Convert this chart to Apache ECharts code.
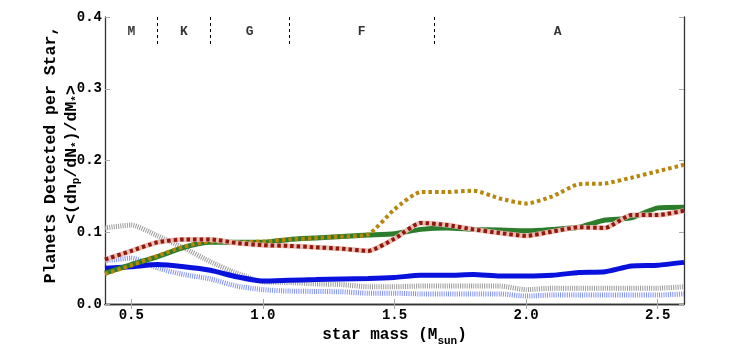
<!DOCTYPE html>
<html>
<head>
<meta charset="utf-8">
<script src="https://cdn.jsdelivr.net/npm/echarts@6/dist/echarts.min.js"></script>
<style>
  html, body { margin: 0; padding: 0; background: #fff; }
  #main { width: 747px; height: 360px; }
</style>
</head>
<body>
<div id="main"></div>
<script>
// star mass (M_sun)
var masses = [0.4, 0.5, 0.6, 0.7, 0.8, 0.9, 1.0, 1.1, 1.2, 1.3, 1.4, 1.5,
              1.6, 1.7, 1.8, 1.9, 2.0, 2.1, 2.2, 2.3, 2.4, 2.5, 2.6];

// planets detected per star
var blueSolid  = [0.050, 0.052, 0.055, 0.052, 0.047, 0.038, 0.032, 0.033, 0.034, 0.035, 0.0355, 0.037,
                  0.040, 0.040, 0.041, 0.039, 0.039, 0.040, 0.044, 0.045, 0.053, 0.054, 0.058];
var greenSolid = [0.043, 0.055, 0.066, 0.079, 0.086, 0.086, 0.086, 0.090, 0.092, 0.094, 0.096, 0.098,
                  0.104, 0.106, 0.104, 0.103, 0.102, 0.104, 0.107, 0.117, 0.120, 0.134, 0.135];
var goldDots   = [0.042, 0.054, 0.067, 0.080, 0.087, 0.086, 0.087, 0.090, 0.092, 0.094, 0.097, 0.132,
                  0.156, 0.156, 0.158, 0.147, 0.140, 0.150, 0.167, 0.168, 0.176, 0.185, 0.194];
var redDots    = [0.062, 0.074, 0.086, 0.090, 0.090, 0.085, 0.082, 0.081, 0.079, 0.077, 0.074, 0.091,
                  0.113, 0.110, 0.104, 0.099, 0.095, 0.101, 0.107, 0.106, 0.124, 0.124, 0.130];
var grayDots   = [0.106, 0.110, 0.095, 0.078, 0.059, 0.043, 0.031, 0.030, 0.028, 0.027, 0.024, 0.024,
                  0.025, 0.025, 0.025, 0.025, 0.020, 0.022, 0.022, 0.022, 0.022, 0.022, 0.024];
var lightBlue  = [0.060, 0.064, 0.050, 0.041, 0.035, 0.025, 0.020, 0.018, 0.0175, 0.017, 0.015, 0.015,
                  0.014, 0.014, 0.014, 0.014, 0.011, 0.0125, 0.0125, 0.0125, 0.0125, 0.0125, 0.014];

// spectral type bands
var typeBounds = [0.6, 0.8, 1.1, 1.65];
var typeNames  = ['M', 'K', 'G', 'F', 'A'];
var typeCenter = [0.5, 0.7, 0.95, 1.375, 2.12];

var xTicks = [0.5, 1.0, 1.5, 2.0, 2.5];

var mono = '"Liberation Mono", "DejaVu Sans Mono", monospace';

function pairs(ys) {
  return masses.map(function (m, i) { return [m, ys[i]]; });
}

var myChart = echarts.init(document.getElementById('main'));

function line(name, ys, color, width, dash, z) {
  return {
    name: name,
    type: 'line',
    xAxisIndex: 0, yAxisIndex: 0,
    data: pairs(ys),
    symbol: 'none',
    smooth: 0.2,
    z: z,
    lineStyle: { color: color, width: width, type: dash || 'solid', cap: 'butt' }
  };
}

var series = [
  line('lightblue', lightBlue, '#8090ff', 5, [1, 1.2], 2),
  line('gray', grayDots, '#9a9a9a', 5, [1, 1.2], 3),
  line('blue', blueSolid, '#0812dc', 5, null, 4),
  line('green', greenSolid, '#2b7d2b', 5, null, 5),
  line('gold', goldDots, '#b8860b', 4, [3.5, 3], 6),
  line('redHalo', redDots, '#ebbcb6', 5, null, 7),
  line('red', redDots, '#8e1a0c', 4, [3.5, 3], 8)
];

// dashed spectral boundaries and type letters
series.push({
  type: 'scatter',
  xAxisIndex: 0, yAxisIndex: 0,
  symbolSize: 0,
  z: 10,
  data: typeNames.map(function (n, i) {
    return { name: n, value: [typeCenter[i], 0.379] };
  }),
  label: {
    show: true, position: 'inside', formatter: '{b}',
    color: '#000', fontFamily: mono, fontWeight: 'bold', fontSize: 13
  },
  markLine: {
    silent: true,
    symbol: 'none',
    label: { show: false },
    lineStyle: { color: '#000', width: 1, type: [3, 3] },
    data: typeBounds.map(function (b) {
      return [{ coord: [b, 0.4] }, { coord: [b, 0.36] }];
    })
  }
});

var option = {
  animation: false,
  backgroundColor: '#fff',
  grid: { left: 105, right: 63, top: 17, bottom: 56 },
  xAxis: [
    {
      type: 'value', min: 0.4, max: 2.6,
      name: 'star mass (M{s|sun})',
      nameLocation: 'middle', nameGap: 19, nameMoveOverlap: false,
      nameTextStyle: {
        fontFamily: mono, fontWeight: 'bold', fontSize: 16, color: '#000', lineHeight: 24,
        rich: { s: { fontFamily: mono, fontWeight: 'bold', fontSize: 11, lineHeight: 11, verticalAlign: 'bottom', color: '#000' } }
      },
      axisLine: { lineStyle: { color: '#333', width: 1.3 } },
      axisTick: { inside: true, length: 5, customValues: xTicks, lineStyle: { color: '#aaa' } },
      axisLabel: {
        customValues: xTicks, margin: 4,
        formatter: function (v) { return v.toFixed(1); },
        fontFamily: mono, fontWeight: 'bold', fontSize: 14, color: '#000'
      },
      splitLine: { show: false }
    },
    {
      type: 'value', min: 0.4, max: 2.6, position: 'top',
      axisLine: { show: true, lineStyle: { color: '#333', width: 1.3 } },
      axisTick: { inside: true, length: 5, customValues: xTicks, lineStyle: { color: '#aaa' } },
      axisLabel: { show: false },
      splitLine: { show: false }
    }
  ],
  yAxis: [
    {
      type: 'value', min: 0, max: 0.4, interval: 0.1,
      name: '{t|Planets Detected per Star,}\n{t|<(dn}{s|p}{t|/dN}{s|*}{t|)/dM}{s|*}{t|>}',
      nameLocation: 'middle', nameGap: 23, nameRotate: 90, nameMoveOverlap: false,
      nameTextStyle: {
        padding: [0, 0, 0, 12],
        rich: {
          t: { fontFamily: mono, fontWeight: 'bold', fontSize: 16.5, lineHeight: 21, color: '#000' },
          s: { fontFamily: mono, fontWeight: 'bold', fontSize: 11, lineHeight: 11, verticalAlign: 'bottom', color: '#000' }
        }
      },
      axisLine: { show: true, lineStyle: { color: '#333', width: 1.3 } },
      axisTick: { show: true, inside: true, length: 5, lineStyle: { color: '#aaa' } },
      axisLabel: {
        margin: 3,
        formatter: function (v) { return v.toFixed(1); },
        fontFamily: mono, fontWeight: 'bold', fontSize: 14, color: '#000'
      },
      splitLine: { show: false }
    },
    {
      type: 'value', min: 0, max: 0.4, interval: 0.1, position: 'right',
      axisLine: { show: true, lineStyle: { color: '#333', width: 1.3 } },
      axisTick: { show: true, inside: true, length: 5, lineStyle: { color: '#aaa' } },
      axisLabel: { show: false },
      splitLine: { show: false }
    }
  ],
  series: series
};

myChart.setOption(option);
</script>
</body>
</html>
